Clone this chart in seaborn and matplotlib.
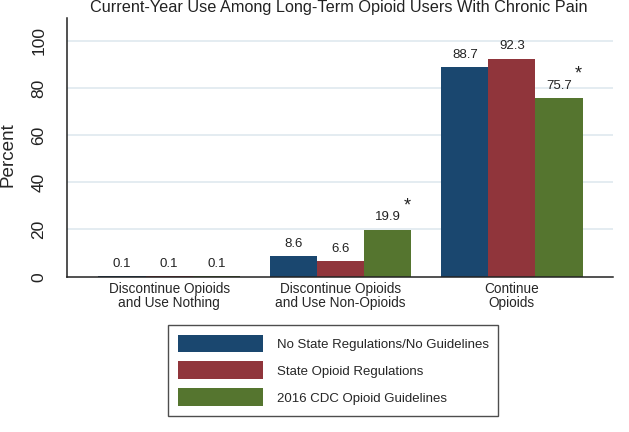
import matplotlib
matplotlib.use("Agg")
import matplotlib.pyplot as plt
import seaborn as sns
import pandas as pd

categories = ["Discontinue Opioids\nand Use Nothing",
              "Discontinue Opioids\nand Use Non-Opioids",
              "Continue\nOpioids"]
groups = ["No State Regulations/No Guidelines",
          "State Opioid Regulations",
          "2016 CDC Opioid Guidelines"]
no_regs = [0.1, 8.6, 88.7]
state_regs = [0.1, 6.6, 92.3]
cdc_guidelines = [0.1, 19.9, 75.7]
# significance markers (*) per series, per category
no_regs_sig = [False, False, False]
state_regs_sig = [False, False, False]
cdc_guidelines_sig = [False, True, True]
colors = ["#1a476f", "#90353b", "#55752f"]
title = "Current-Year Use Among Long-Term Opioid Users With Chronic Pain"
yticks = [0, 20, 40, 60, 80, 100]

rows = []
for g, vals in zip(groups, [no_regs, state_regs, cdc_guidelines]):
    for c, v in zip(categories, vals):
        rows.append({"category": c, "group": g, "percent": v})
df = pd.DataFrame(rows)
significant = [no_regs_sig, state_regs_sig, cdc_guidelines_sig]

sns.set_style("white")
plt.rcParams["font.family"] = ["Liberation Sans", "DejaVu Sans"]

fig = plt.figure(figsize=(6.29, 4.32), dpi=100)
ax = fig.add_axes([0.106, 0.3595, 0.9746 - 0.106, 0.9583 - 0.3595])

sns.barplot(data=df, x="category", y="percent", hue="group", order=categories,
            hue_order=groups, palette=colors, saturation=1, width=0.825, gap=0,
            linewidth=0, ax=ax)

ax.set_xlim(-0.598, 2.59)
ax.set_ylim(0, 109.6)
ax.set_yticks(yticks)
ax.set_yticklabels([str(t) for t in yticks], rotation=90, va="center", fontsize=12.5)
ax.tick_params(axis="y", length=6.5, width=1, pad=8, colors="#222222")
ax.tick_params(axis="x", length=0, pad=4, labelsize=9.8)
for lab in ax.get_xticklabels():
    lab.set_linespacing(0.95)
ax.set_xlabel("")
ax.set_ylabel("Percent", fontsize=13.6, va="center")
ax.yaxis.set_label_coords(-0.1065, 0.472)

for t in yticks[1:]:
    ax.axhline(t, color="#dde7ed", lw=1.1, zorder=0)

for s in ["top", "right"]:
    ax.spines[s].set_visible(False)
for s in ["left", "bottom"]:
    ax.spines[s].set_linewidth(1.1)
    ax.spines[s].set_color("#222222")

for gi, cont in enumerate(ax.containers):
    for ci, bar in enumerate(cont):
        h = bar.get_height()
        xc = bar.get_x() + bar.get_width() / 2
        ax.annotate(f"{h:.1f}", (xc, h), xytext=(0, 6.8), textcoords="offset points",
                    ha="center", va="baseline", fontsize=9.5, color="#222222")
        if significant[gi][ci]:
            ax.annotate("*", (xc, h), xytext=(14, 17), textcoords="offset points",
                        ha="center", va="center", fontsize=13, color="#222222")

handles, labels = ax.get_legend_handles_labels()
if ax.get_legend() is not None:
    ax.get_legend().remove()
leg = fig.legend(handles, labels, loc="upper left",
                 bbox_to_anchor=(168 / 629, 1 - 325 / 432), borderaxespad=0,
                 fontsize=9.5, frameon=True, fancybox=False, handlelength=6.5,
                 handleheight=1.72, handletextpad=1.04, borderpad=0.72,
                 labelspacing=0.68)
leg.get_frame().set_edgecolor("#222222")
leg.get_frame().set_linewidth(1.0)

fig.text(339 / 629, 1 - 11.7 / 432, title, ha="center", va="baseline",
         fontsize=11.7, color="#222222")

fig.savefig("out.png", dpi=100)
